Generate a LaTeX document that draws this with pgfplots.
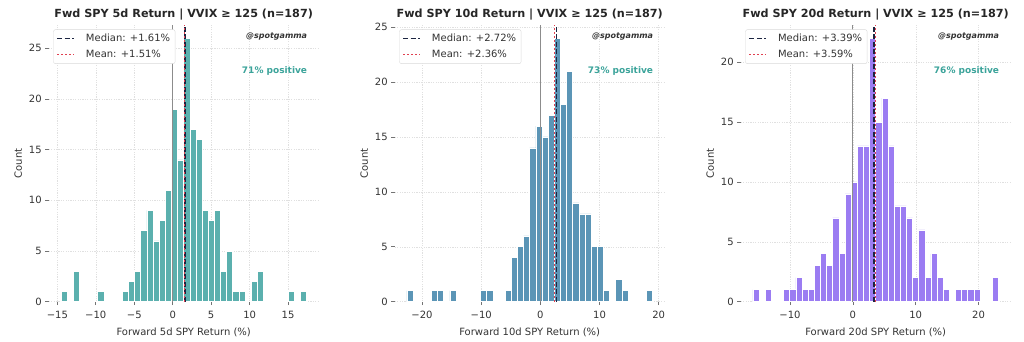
\documentclass[border=0pt]{standalone}
\usepackage{pgfplots}
\pgfplotsset{compat=1.18}
\usepackage{fontspec}
\setmainfont{DejaVu Sans}
\definecolor{tealbar}{HTML}{5BB0AE}
\definecolor{bluebar}{HTML}{5B95B6}
\definecolor{purplebar}{HTML}{9B7CF2}
\definecolor{postext}{HTML}{3BA39A}
\definecolor{mednavy}{HTML}{1C2541}
\definecolor{meanred}{HTML}{E04050}
\definecolor{txt}{HTML}{333333}
\pgfplotsset{
  panel/.style={
    scale only axis, width=270pt, height=276.7pt, anchor=south west,
    axis lines*=left, axis line style={draw=none},
    tick align=outside, major tick length=3.5pt,
    tick style={black!55, line width=0.6pt},
    ticklabel style={font=\fontsize{10}{12}\selectfont, text=txt},
    xticklabel style={yshift=-2pt},
    label style={font=\fontsize{10}{12}\selectfont, text=txt},
    xlabel style={yshift=-2.5pt},
    title style={font=\bfseries\fontsize{11.2}{13}\selectfont, text=black!85, yshift=-5pt},
    grid=major,
    major grid style={black!12, line width=0.5pt, dash pattern=on 1.2pt off 1.2pt},
    ylabel={Count}, ymin=0,
    legend cell align=left,
    legend image code/.code={\draw[#1] (1pt,0pt) -- (18pt,0pt); \path (27pt,0pt);},
    legend style={at={(0.017,0.984)}, anchor=north west, draw=black!15,
      rounded corners=2pt, fill=white, font=\fontsize{10}{12}\selectfont, text=txt,
      inner xsep=3pt, inner ysep=2.5pt, row sep=3pt},
  },
  bars/.style={ybar interval, draw=white, line width=0.6pt, forget plot},
  zeroline/.style={forget plot, black!45, line width=1pt},
  medline/.style={mednavy, line width=1.5pt, dash pattern=on 5pt off 2.5pt},
  meanline/.style={meanred, line width=1.5pt, dash pattern=on 1.5pt off 2.5pt},
}
\newcommand{\tags}[1]{%
  \node[anchor=north east, font=\bfseries\itshape\fontsize{8}{9}\selectfont, text=black!80]
    at (rel axis cs:0.97,0.985) {@spotgamma};
  \node[anchor=east, font=\bfseries\fontsize{9}{10}\selectfont, text=postext]
    at (rel axis cs:0.97,0.835) {#1};
}
\begin{document}
\begin{tikzpicture}
\path[use as bounding box] (0,0) rectangle (1024pt,342pt);
% Panel 1
\begin{axis}[panel, at={(48.7pt,40.3pt)},
  title={Fwd SPY 5d Return | VVIX ≥ 125 (n=187)},
  xlabel={Forward 5d SPY Return (\%)},
  xmin=-16.12, xmax=18.98, ymax=27.3,
  xtick={-15,-10,-5,0,5,10,15}, xticklabels={−15,−10,−5,0,5,10,15},
  ytick={0,5,10,15,20,25}, yticklabels={0,5,10,15,20,25}]
\addplot[bars, fill=tealbar] coordinates {(-14.52,1) (-13.72,0) (-12.93,3) (-12.13,0) (-11.33,0) (-10.53,0) (-9.74,1) (-8.94,0) (-8.14,0) (-7.34,0) (-6.55,1) (-5.75,2) (-4.95,3) (-4.15,7) (-3.36,9) (-2.56,6) (-1.76,8) (-0.96,11) (-0.17,19) (0.63,14) (1.43,26) (2.23,17) (3.03,16) (3.82,9) (4.62,8) (5.42,9) (6.22,3) (7.01,5) (7.81,1) (8.61,1) (9.41,0) (10.20,2) (11.00,3) (11.80,0) (12.60,0) (13.39,0) (14.19,0) (14.99,1) (15.79,0) (16.58,1) (17.38,1)};
\addplot[zeroline] coordinates {(0,0) (0,27.3)};
\addplot[medline] coordinates {(1.61,0) (1.61,27.3)};
\addlegendentry{Median: +1.61\%}
\addplot[meanline] coordinates {(1.51,0) (1.51,27.3)};
\addlegendentry{Mean: +1.51\%}
\tags{71\% positive}
\end{axis}
% Panel 2
\begin{axis}[panel, at={(394.7pt,40.3pt)},
  title={Fwd SPY 10d Return | VVIX ≥ 125 (n=187)},
  xlabel={Forward 10d SPY Return (\%)},
  xmin=-24.61, xmax=21.01, ymax=25.2,
  xtick={-20,-10,0,10,20}, xticklabels={−20,−10,0,10,20},
  ytick={0,5,10,15,20,25}, yticklabels={0,5,10,15,20,25}]
\addplot[bars, fill=bluebar] coordinates {(-22.54,1) (-21.50,0) (-20.47,0) (-19.43,0) (-18.39,1) (-17.36,1) (-16.32,0) (-15.28,1) (-14.24,0) (-13.21,0) (-12.17,0) (-11.13,0) (-10.10,1) (-9.06,1) (-8.02,0) (-6.99,0) (-5.95,1) (-4.91,4) (-3.87,5) (-2.84,6) (-1.80,14) (-0.76,16) (0.27,15) (1.31,17) (2.35,24) (3.39,18) (4.42,21) (5.46,9) (6.50,8) (7.53,8) (8.57,5) (9.61,5) (10.64,1) (11.68,0) (12.72,2) (13.76,1) (14.79,0) (15.83,0) (16.87,0) (17.90,1) (18.94,1)};
\addplot[zeroline] coordinates {(0,0) (0,25.2)};
\addplot[medline] coordinates {(2.72,0) (2.72,25.2)};
\addlegendentry{Median: +2.72\%}
\addplot[meanline] coordinates {(2.36,0) (2.36,25.2)};
\addlegendentry{Mean: +2.36\%}
\tags{73\% positive}
\end{axis}
% Panel 3
\begin{axis}[panel, at={(740.7pt,40.3pt)},
  title={Fwd SPY 20d Return | VVIX ≥ 125 (n=187)},
  xlabel={Forward 20d SPY Return (\%)},
  xmin=-17.85, xmax=25.11, ymax=23.1,
  xtick={-10,0,10,20}, xticklabels={−10,0,10,20},
  ytick={0,5,10,15,20}, yticklabels={0,5,10,15,20}]
\addplot[bars, fill=purplebar] coordinates {(-15.90,1) (-14.92,0) (-13.95,1) (-12.97,0) (-11.99,0) (-11.02,1) (-10.04,1) (-9.06,2) (-8.09,1) (-7.11,1) (-6.14,3) (-5.16,4) (-4.18,3) (-3.21,7) (-2.23,4) (-1.25,9) (-0.28,10) (0.70,13) (1.68,13) (2.65,22) (3.63,15) (4.61,17) (5.58,13) (6.56,8) (7.54,8) (8.51,7) (9.49,2) (10.47,6) (11.44,2) (12.42,4) (13.40,2) (14.37,1) (15.35,0) (16.32,1) (17.30,1) (18.28,1) (19.25,1) (20.23,0) (21.21,0) (22.18,2) (23.16,2)};
\addplot[zeroline] coordinates {(0,0) (0,23.1)};
\addplot[medline] coordinates {(3.39,0) (3.39,23.1)};
\addlegendentry{Median: +3.39\%}
\addplot[meanline] coordinates {(3.59,0) (3.59,23.1)};
\addlegendentry{Mean: +3.59\%}
\tags{76\% positive}
\end{axis}
\end{tikzpicture}
\end{document}
